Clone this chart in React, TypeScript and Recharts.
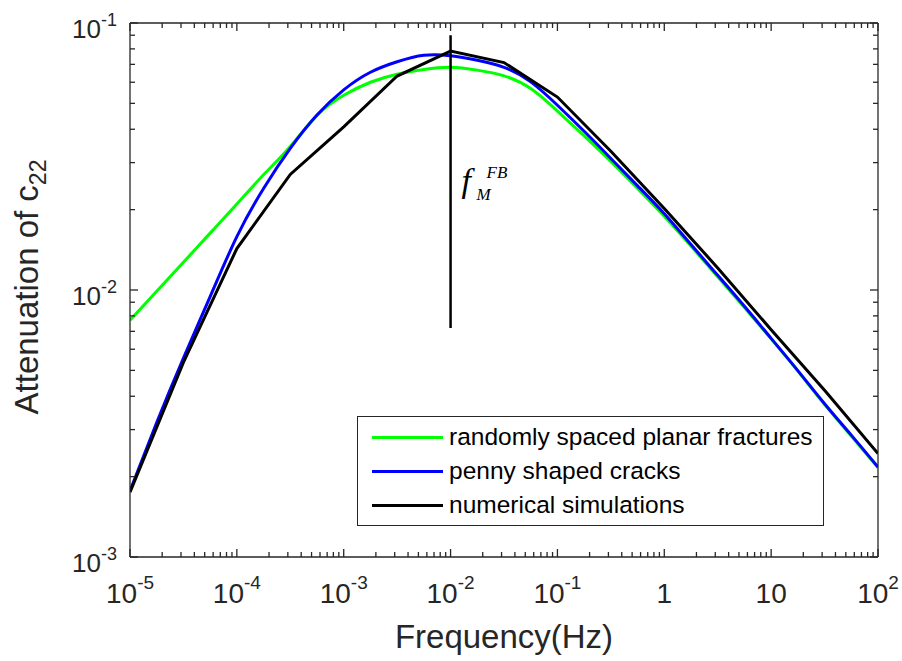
import React from 'react';
import { LineChart, Line, XAxis, YAxis, ReferenceLine, Legend } from 'recharts';

// frequencies (Hz) at quarter decades, for the two analytic curves
const FREQ_QUARTER = [
  1e-5, 1.778e-5, 3.162e-5, 5.623e-5, 1e-4, 1.778e-4, 3.162e-4, 5.623e-4, 1e-3, 1.778e-3, 3.162e-3, 5.623e-3,
  1e-2, 1.778e-2, 3.162e-2, 5.623e-2, 0.1, 0.1778, 0.3162, 0.5623, 1, 1.778, 3.162, 5.623, 10, 17.78, 31.62, 56.23, 100,
];
const PLANAR = [
  7.7e-3, 9.89e-3, 0.0127, 0.01633, 0.021, 0.027, 0.0345, 0.0451, 0.0536, 0.06, 0.0643, 0.067,
  0.0683, 0.0666, 0.0634, 0.0568, 0.0468, 0.0378, 0.0303, 0.024, 0.0189, 0.0146, 0.0112, 8.6e-3, 6.56e-3, 4.97e-3,
  3.73e-3, 2.84e-3, 2.16e-3,
];
const PENNY = [
  1.77e-3, 3.19e-3, 5.56e-3, 9.44e-3, 0.01585, 0.024, 0.0339, 0.0452, 0.0562, 0.0654, 0.0716, 0.0757,
  0.0754, 0.0725, 0.0682, 0.0602, 0.0492, 0.0393, 0.0311, 0.02455, 0.0193, 0.0148, 0.01135, 8.69e-3, 6.59e-3,
  4.99e-3, 3.75e-3, 2.86e-3, 2.17e-3,
];

// numerical simulations, half decades
const FREQ_HALF = [1e-5, 3.162e-5, 1e-4, 3.162e-4, 1e-3, 3.162e-3, 1e-2, 3.162e-2, 0.1, 0.3162, 1, 3.162, 10, 31.62, 100];
const NUMERICAL = [
  1.75e-3, 5.36e-3, 0.0143, 0.0271, 0.0408, 0.0633, 0.0785, 0.0711, 0.0528, 0.0331, 0.0202, 0.0121, 7.1e-3, 4.21e-3,
  2.44e-3,
];

// f_M^FB marker
const FM_FREQ = 0.01;
const FM_RANGE = [0.09, 0.0072];

const X_MAJOR = [1e-5, 1e-4, 1e-3, 1e-2, 0.1, 1, 10, 100];
const X_LABELS = [['10', '-5'], ['10', '-4'], ['10', '-3'], ['10', '-2'], ['10', '-1'], ['1', ''], ['10', ''], ['10', '2']];
const Y_MAJOR = [1e-3, 1e-2, 1e-1];
const Y_LABELS = [['10', '-3'], ['10', '-2'], ['10', '-1']];
const MINOR_MULT = [2, 3, 4, 5, 6, 7, 8, 9];

const SERIES = [
  { name: 'randomly spaced planar fractures', color: '#00ff00', freq: FREQ_QUARTER, vals: PLANAR, type: 'natural' },
  { name: 'penny shaped cracks', color: '#0000ff', freq: FREQ_QUARTER, vals: PENNY, type: 'natural' },
  { name: 'numerical simulations', color: '#000000', freq: FREQ_HALF, vals: NUMERICAL, type: 'linear' },
];

const FONT = '"Liberation Sans", Arial, Helvetica, sans-serif';
const AXIS = '#262626';

const withMinors = (majors: number[]) => {
  const out: number[] = [];
  majors.forEach((m, i) => {
    out.push(m);
    if (i < majors.length - 1) MINOR_MULT.forEach((k) => out.push(m * k));
  });
  return out;
};
const X_TICKS = withMinors(X_MAJOR);
const Y_TICKS = withMinors(Y_MAJOR);

const majorIdx = (majors: number[], v: number) => majors.findIndex((m) => Math.abs(m - v) / m < 1e-6);

const makeXTick = (top: boolean) => (props: any) => {
  const { x, y, payload } = props;
  const i = majorIdx(X_MAJOR, payload.value);
  const len = i >= 0 ? 8 : 5;
  return (
    <g>
      <line x1={x} x2={x} y1={y} y2={top ? y + len : y - len} stroke={AXIS} strokeWidth={1.3} />
      {!top && i >= 0 && (
        <text x={x} y={y + 46} textAnchor="middle" fontFamily={FONT} fontSize={28} fill={AXIS}>
          {X_LABELS[i][0]}
          {X_LABELS[i][1] && (
            <tspan dy={-14} fontSize={19}>
              {X_LABELS[i][1]}
            </tspan>
          )}
        </text>
      )}
    </g>
  );
};

const makeYTick = (right: boolean) => (props: any) => {
  const { x, y, payload } = props;
  const i = majorIdx(Y_MAJOR, payload.value);
  const len = i >= 0 ? 8 : 5;
  return (
    <g>
      <line x1={x} x2={right ? x - len : x + len} y1={y} y2={y} stroke={AXIS} strokeWidth={1.3} />
      {!right && i >= 0 && (
        <text x={x - 13} y={y + 15} textAnchor="end" fontFamily={FONT} fontSize={26} fill={AXIS}>
          {Y_LABELS[i][0]}
          <tspan dy={-12} fontSize={18}>
            {Y_LABELS[i][1]}
          </tspan>
        </text>
      )}
    </g>
  );
};

const renderLegend = () => (
  <div
    style={{
      width: 467,
      height: 110,
      border: `1.3px solid ${AXIS}`,
      background: '#fff',
      boxSizing: 'border-box',
      position: 'relative',
    }}
  >
    {SERIES.map((s, i) => (
      <div
        key={s.name}
        style={{ position: 'absolute', left: 14, top: 5 + i * 34.2, height: 30, display: 'flex', alignItems: 'center' }}
      >
        <span style={{ display: 'inline-block', width: 71, height: 3, background: s.color }} />
        <span style={{ marginLeft: 6, fontSize: 24.5, fontFamily: FONT, color: '#000', lineHeight: '30px', whiteSpace: 'nowrap' }}>
          {s.name}
        </span>
      </div>
    ))}
  </div>
);

const FmLabel = (props: any) => {
  const { viewBox } = props;
  const x = viewBox.x + 11;
  const y = viewBox.y + 157;
  return (
    <g fontFamily='"Liberation Serif", "Times New Roman", serif' fontStyle="italic" fill="#000">
      <text x={x} y={y} fontSize={34}>f</text>
      <text x={x + 15} y={y + 8} fontSize={17}>M</text>
      <text x={x + 25} y={y - 14} fontSize={17}>FB</text>
    </g>
  );
};

export default function App() {
  return (
    <div style={{ position: 'absolute', left: 0, top: 0, background: '#fff' }}>
      <LineChart width={902} height={661} margin={{ top: 22, right: 23, bottom: 0, left: 0 }}>
        <XAxis
          dataKey="x"
          type="number"
          scale="log"
          domain={[1e-5, 100]}
          allowDataOverflow
          ticks={X_TICKS}
          interval={0}
          tick={makeXTick(false)}
          tickLine={false}
          tickSize={0}
          tickMargin={0}
          height={104}
          axisLine={{ stroke: AXIS, strokeWidth: 1.3 }}
          label={{
            content: () => (
              <text x={504} y={648} textAnchor="middle" fontFamily={FONT} fontSize={33} fill={AXIS}>
                Frequency(Hz)
              </text>
            ),
          }}
        />
        <XAxis
          xAxisId="top"
          orientation="top"
          dataKey="x"
          type="number"
          scale="log"
          domain={[1e-5, 100]}
          allowDataOverflow
          ticks={X_TICKS}
          interval={0}
          tick={makeXTick(true)}
          tickLine={false}
          tickSize={0}
          tickMargin={0}
          height={1}
          axisLine={{ stroke: AXIS, strokeWidth: 1.3 }}
        />
        <YAxis
          type="number"
          scale="log"
          domain={[1e-3, 0.1]}
          allowDataOverflow
          ticks={Y_TICKS}
          interval={0}
          tick={makeYTick(false)}
          tickLine={false}
          tickSize={0}
          tickMargin={0}
          width={130}
          axisLine={{ stroke: AXIS, strokeWidth: 1.3 }}
          label={{
            content: () => (
              <text
                x={38}
                y={287}
                transform="rotate(-90 38 287)"
                textAnchor="middle"
                fontFamily={FONT}
                fontSize={33}
                fill={AXIS}
              >
                Attenuation of c
                <tspan dy={8} fontSize={23}>
                  22
                </tspan>
              </text>
            ),
          }}
        />
        <YAxis
          yAxisId="right"
          orientation="right"
          type="number"
          scale="log"
          domain={[1e-3, 0.1]}
          allowDataOverflow
          ticks={Y_TICKS}
          interval={0}
          tick={makeYTick(true)}
          tickLine={false}
          tickSize={0}
          tickMargin={0}
          width={1}
          axisLine={{ stroke: AXIS, strokeWidth: 1.3 }}
        />
        {SERIES.map((s) => (
          <Line
            key={s.name}
            name={s.name}
            data={s.freq.map((f, i) => ({ x: f, y: s.vals[i] }))}
            dataKey="y"
            type={s.type as any}
            stroke={s.color}
            strokeWidth={3}
            dot={false}
            activeDot={false}
            isAnimationActive={false}
          />
        ))}
        <ReferenceLine
          segment={[
            { x: FM_FREQ, y: FM_RANGE[0] },
            { x: FM_FREQ, y: FM_RANGE[1] },
          ]}
          stroke="#000"
          strokeWidth={2.5}
          ifOverflow="visible"
          label={<FmLabel />}
        />
        <Legend
          layout="vertical"
          align="center"
          verticalAlign="middle"
          content={renderLegend}
          wrapperStyle={{ left: 357, top: 416, width: 467, height: 110 }}
        />
      </LineChart>
    </div>
  );
}
